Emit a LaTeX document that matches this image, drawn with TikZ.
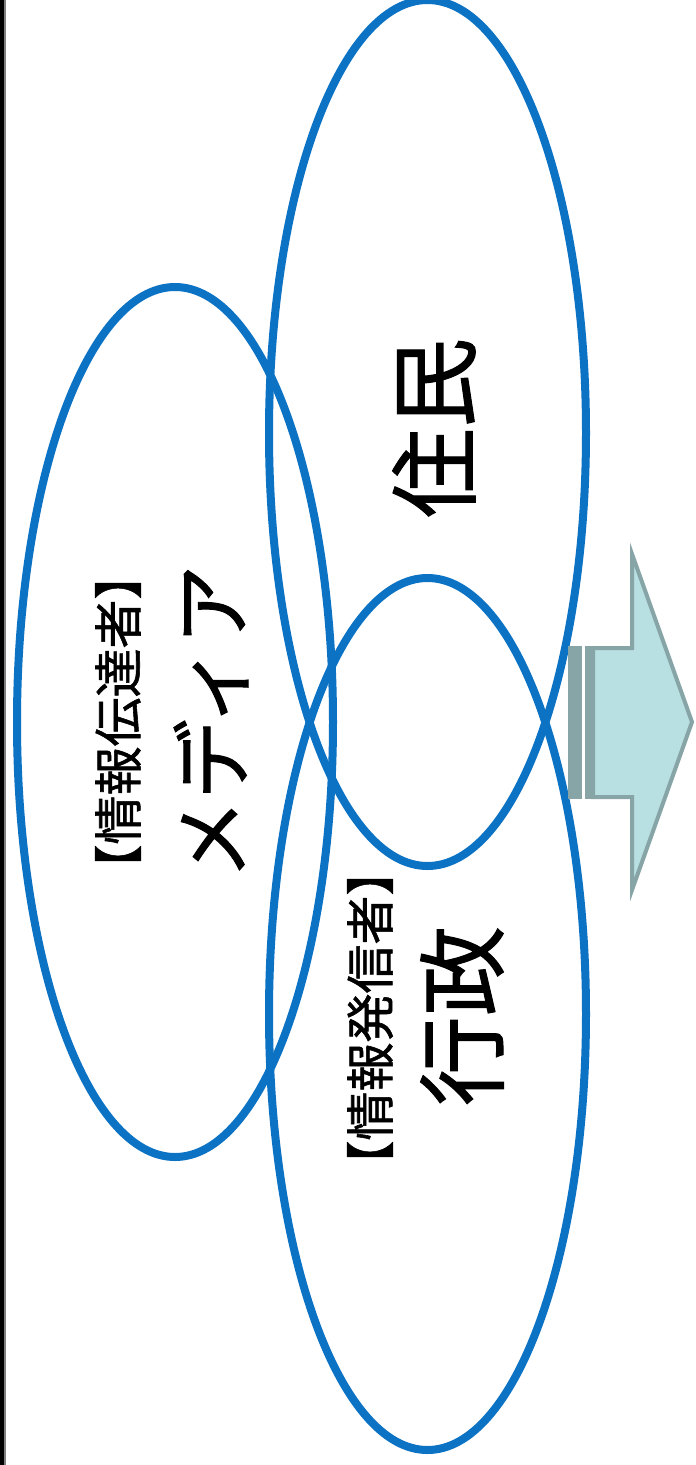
\documentclass[tikz,border=0pt]{standalone}
\usepackage{fontspec}
\newfontfamily\jp[FakeBold=1.2]{Noto Sans CJK JP}
\definecolor{ringblue}{RGB}{12,114,196}
\definecolor{arrowfill}{RGB}{184,223,226}
\definecolor{arrowline}{RGB}{135,165,167}
\begin{document}
\begin{tikzpicture}[x=1pt,y=-1pt,
  ring/.style={draw=ringblue,line width=8pt},
  bigtxt/.style={rotate=90,font=\jp\fontsize{90}{90}\selectfont,inner sep=0pt},
  midtxt/.style={rotate=90,font=\jp\fontsize{80}{80}\selectfont,inner sep=0pt},
  smalltxt/.style={rotate=90,font=\jp\fontsize{49}{49}\selectfont,inner sep=0pt}]
\useasboundingbox (0,0) rectangle (696,1465);
\fill[white] (0,0) rectangle (696,1465);
% left border
\fill[black] (0,0) rectangle (4,1465);
\fill[gray] (4,0) rectangle (5.5,1465);
% ellipses
\draw[ring] (427.5,433) ellipse [x radius=158.5,y radius=433];
\draw[ring] (427.5,1014) ellipse [x radius=158.5,y radius=436];
\draw[ring] (175,722) ellipse [x radius=158,y radius=435];
% texts
\node[bigtxt] (jumin) at (434,428) {住民};
\node[bigtxt] (gyosei) at (462,1016) {行政};
\node[midtxt] (media) at (211,722) {メディア};
\node[smalltxt] (dentatsu) at (118,722) {【情報伝達者】};
\node[smalltxt] (hasshin) at (370,1018) {【情報発信者】};
% striped arrow
\draw[arrowline,fill=arrowfill,line width=4pt,line join=miter]
  (593,648) -- (632,648) -- (632,554) -- (692,722) -- (632,890) -- (632,797) -- (593,797) -- cycle;
\fill[arrowline] (568,646) rectangle (582,799);
\fill[arrowline] (585,646) rectangle (594,799);
\end{tikzpicture}
\end{document}
